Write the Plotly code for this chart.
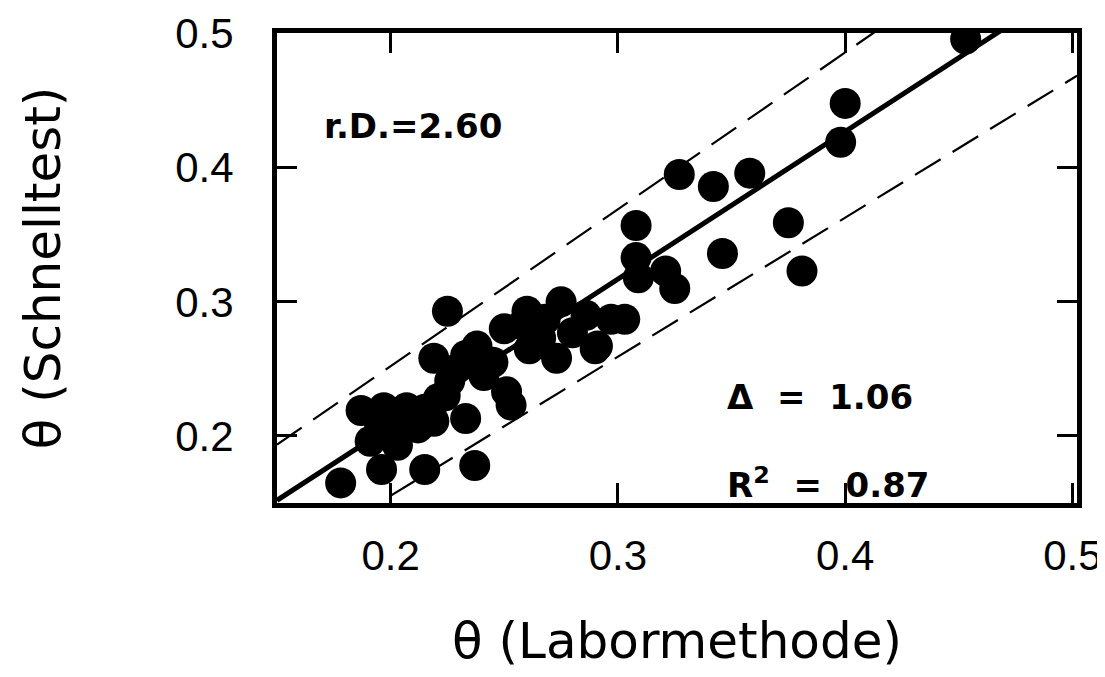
import plotly.graph_objects as go
import numpy as np

# Data (θ Labormethode vs θ Schnelltest)
labor = [0.178, 0.196, 0.215, 0.237,
         0.187, 0.197, 0.207, 0.191, 0.203, 0.212, 0.221, 0.233, 0.219, 0.201,
         0.205, 0.195, 0.215,
         0.225, 0.219, 0.233, 0.238, 0.250, 0.260, 0.275, 0.273, 0.290, 0.303,
         0.251, 0.253, 0.226, 0.224, 0.241, 0.266, 0.261, 0.286, 0.291,
         0.229, 0.245, 0.258, 0.268, 0.280, 0.297,
         0.308, 0.321, 0.325, 0.309, 0.308, 0.327, 0.342, 0.358, 0.346,
         0.375, 0.381, 0.400, 0.398, 0.453]
schnell = [0.165, 0.175, 0.175, 0.178,
           0.219, 0.221, 0.221, 0.196, 0.193, 0.206, 0.228, 0.213, 0.211, 0.206,
           0.205, 0.210, 0.220,
           0.293, 0.258, 0.260, 0.267, 0.280, 0.293, 0.300, 0.258, 0.265, 0.287,
           0.233, 0.223, 0.241, 0.230, 0.245, 0.273, 0.265, 0.290, 0.267,
           0.250, 0.255, 0.283, 0.287, 0.277, 0.287,
           0.333, 0.323, 0.310, 0.318, 0.357, 0.395, 0.386, 0.396, 0.336,
           0.359, 0.323, 0.448, 0.419, 0.496]

# Regression line and band (slope, intercept)
fit_slope, fit_intercept = 1.10, -0.013
upper_slope, upper_intercept = 1.17, 0.018
lower_slope, lower_intercept = 1.037, -0.052

x_range = [0.15, 0.502]
y_range = [0.15, 0.5005]
x_ticks = [0.2, 0.3, 0.4, 0.5]
y_ticks = [0.2, 0.3, 0.4, 0.5]

xs = np.linspace(0.15, 0.502, 200)

fig = go.Figure()
fig.add_trace(go.Scatter(x=xs, y=upper_slope * xs + upper_intercept, mode="lines",
                         line=dict(color="black", width=2.2, dash="30px,14px"),
                         hoverinfo="skip"))
fig.add_trace(go.Scatter(x=xs, y=lower_slope * xs + lower_intercept, mode="lines",
                         line=dict(color="black", width=2.2, dash="30px,14px"),
                         hoverinfo="skip"))
fig.add_trace(go.Scatter(x=xs, y=fit_slope * xs + fit_intercept, mode="lines",
                         line=dict(color="black", width=5), hoverinfo="skip"))
fig.add_trace(go.Scatter(x=labor, y=schnell, mode="markers",
                         marker=dict(color="black", size=31, line=dict(width=0))))

tick_font = "Liberation Sans, Arial, sans-serif"
wide_font = "DejaVu Sans, Liberation Sans, sans-serif"

fig.add_annotation(x=0.170, y=0.431, xref="x", yref="y", text="<b>r.D.=2.60</b>",
                   showarrow=False, xanchor="left", yanchor="middle",
                   font=dict(size=34, color="black", family=wide_font))
fig.add_annotation(x=0.347, y=0.229, xref="x", yref="y", text="<b>Δ  =  1.06</b>",
                   showarrow=False, xanchor="left", yanchor="middle",
                   font=dict(size=34, color="black", family=wide_font))
fig.add_annotation(x=0.347, y=0.165, xref="x", yref="y", text="<b>R<sup>2</sup>  =  0.87</b>",
                   showarrow=False, xanchor="left", yanchor="middle",
                   font=dict(size=34, color="black", family=wide_font))

axis_common = dict(showgrid=False, zeroline=False, showline=True, linecolor="black",
                   linewidth=5, mirror="ticks", ticks="inside", ticklen=20,
                   tickwidth=3, tickcolor="black", ticklabeloverflow="allow",
                   tickfont=dict(size=42, color="black", family=tick_font))

fig.update_xaxes(range=x_range, tickvals=x_ticks, ticktext=[f"{v:.1f}" for v in x_ticks],
                 ticklabelstandoff=12,
                 title=dict(text="θ (Labormethode)", standoff=46,
                            font=dict(size=50, color="black", family=wide_font)),
                 **axis_common)
fig.update_yaxes(range=y_range, tickvals=y_ticks, ticktext=[f"{v:.1f}" for v in y_ticks],
                 ticklabelstandoff=30,
                 title=dict(text="θ (Schnelltest)", standoff=100,
                            font=dict(size=50, color="black", family=wide_font)),
                 **axis_common)

fig.update_layout(width=1105, height=677, showlegend=False,
                  plot_bgcolor="white", paper_bgcolor="white",
                  margin=dict(l=269, r=36, t=25, b=182, autoexpand=False))

fig.write_html("out.html")
